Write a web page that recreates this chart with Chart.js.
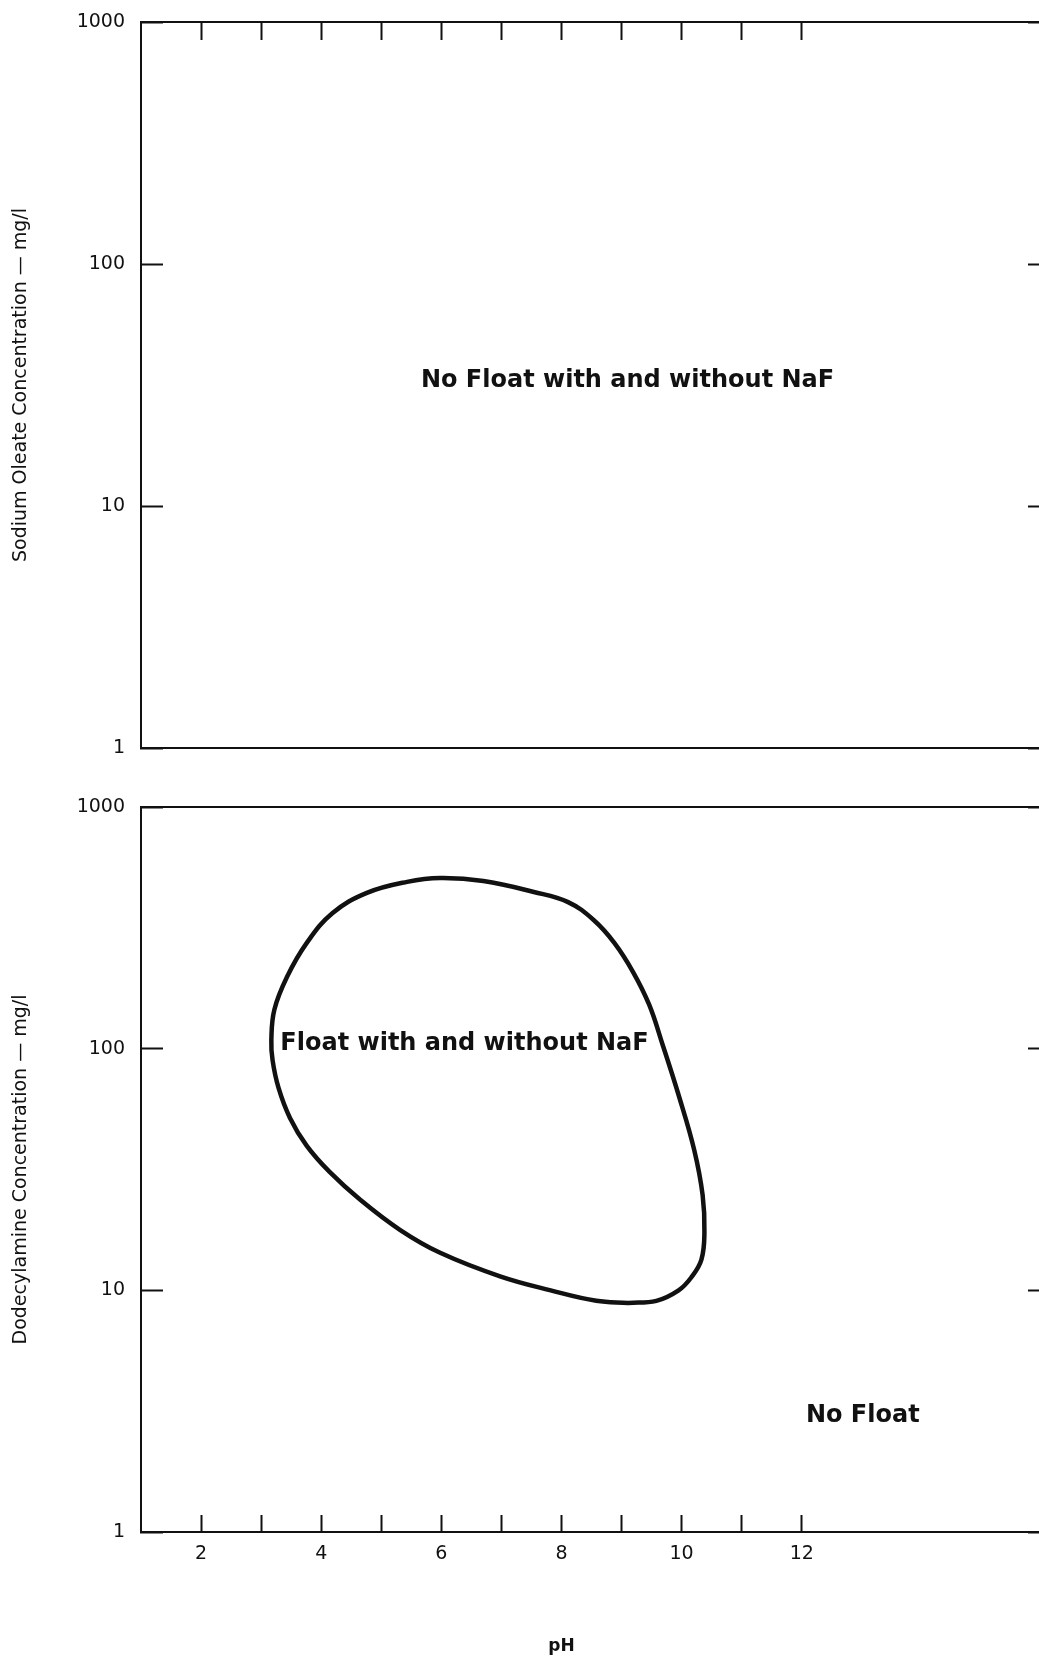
<!DOCTYPE html>
<html>
<head>
<meta charset="utf-8">
<title>Flotation response vs pH</title>
<script src="https://cdn.jsdelivr.net/npm/chart.js@4.4.1/dist/chart.umd.min.js"></script>
<style>
  html, body { margin: 0; padding: 0; background: #fff; overflow: hidden; }
  #wrap { position: relative; width: 1039px; height: 1661px; overflow: hidden; background: #fff; }
  canvas { position: absolute; left: 0; }
  #oleate { top: 0; }
  #amine { top: 780px; }
</style>
</head>
<body>
<div id="wrap">
  <canvas id="oleate" width="1046" height="762"></canvas>
  <canvas id="amine" width="1046" height="881"></canvas>
</div>
<script>
// ---- axis values ----
const phRange = [1, 16];
const phTicks = [2, 3, 4, 5, 6, 7, 8, 9, 10, 11, 12];
const phTickLabels = [2, 4, 6, 8, 10, 12];
const concRange = [1, 1000];
const concTicks = [1, 10, 100, 1000];
const concTickLabels = ['1', '10', '100', '1000'];

// ---- float region boundary with dodecylamine (pH, mg/l), clockwise from its lowest point ----
const floatPH   = [9.11, 8.58, 7.82, 6.99, 5.98, 5.31, 4.65, 4.14, 3.76, 3.48,
                   3.29, 3.19, 3.17, 3.22, 3.43, 3.76, 4.19, 4.76, 5.43, 5.98,
                   6.70, 7.54, 8.11, 8.54, 8.88, 9.19, 9.46, 9.68, 9.96, 10.21,
                   10.35, 10.38, 10.33, 10.16, 9.95, 9.58, 9.11];
const floatConc = [8.87, 9.05, 10.0, 11.4, 14.3, 17.8, 23.7, 30.9, 39.6, 51.7,
                   68.8, 89.8, 109, 145, 198, 274, 364, 441, 490, 508,
                   494, 445, 404, 340, 274, 208, 152, 104.6, 63.1, 38.1,
                   24.8, 17.4, 13.4, 11.3, 10.0, 9.05, 8.87];

// ---- texts ----
const oleateTitle = 'Sodium Oleate Concentration \u2014 mg/l';
const amineTitle = 'Dodecylamine Concentration \u2014 mg/l';
const phTitle = 'pH';

const oleateNoteText = ['No Float with and without NaF'];
const oleateNotePH = [9.1];
const oleateNoteConc = [33];
const oleateNoteAlign = ['center'];

const amineNoteText = ['Float with and without NaF', 'No Float'];
const amineNotePH = [3.32, 12.07];
const amineNoteConc = [104.6, 3.02];
const amineNoteAlign = ['left', 'left'];

// ---- styling ----
const INK = '#111';
Chart.defaults.font.family = '"DejaVu Sans", Verdana, sans-serif';
Chart.defaults.color = INK;

const setTicks = values => scale => { scale.ticks = values.map(v => ({ value: v })); };
// fixed axis box sizes; edge label padding is covered by layout.padding
const fixWidth = w => scale => { scale.width = w; scale.paddingTop = 0; scale.paddingBottom = 0; };
const fixHeight = h => scale => { scale.height = h; scale.paddingLeft = 0; scale.paddingRight = 0; };

function phAxis(position, marks, labelled, height) {
  const axis = {
    type: 'linear', position, min: phRange[0], max: phRange[1],
    afterFit: fixHeight(height),
    grid: {
      display: !!marks, drawOnChartArea: false, drawTicks: true,
      tickLength: position === 'top' ? -18 : -17, tickWidth: 2, tickColor: INK
    },
    border: { display: true, width: 2, color: INK },
    ticks: {
      display: labelled, autoSkip: false, maxRotation: 0, minRotation: 0,
      padding: 28, font: { size: 19 }, color: INK,
      callback: v => phTickLabels.includes(v) ? String(v) : ''
    }
  };
  if (marks) axis.afterBuildTicks = setTicks(marks);
  return axis;
}

function concAxis(position, labelled, title, width, tickLen) {
  return {
    type: 'logarithmic', position, min: concRange[0], max: concRange[1],
    afterBuildTicks: setTicks(concTicks),
    afterFit: fixWidth(width),
    grid: { drawOnChartArea: false, drawTicks: true, tickLength: tickLen, tickWidth: 2, tickColor: INK },
    border: { display: true, width: 2, color: INK },
    ticks: {
      display: labelled, padding: 38, font: { size: 19 }, color: INK,
      callback: (v, i) => concTickLabels[i]
    },
    title: {
      display: !!title, text: title, color: INK,
      padding: { top: 10, bottom: 0 }, font: { size: 19 }
    }
  };
}

// region labels placed in data coordinates, optional pH caption under the axis
function regionNotes(texts, phs, concs, aligns, withAxisCaption) {
  return {
    id: 'regionNotes',
    afterDatasetsDraw(chart) {
      const { ctx, scales: { x, y }, chartArea } = chart;
      ctx.save();
      ctx.fillStyle = INK;
      ctx.textBaseline = 'middle';
      ctx.font = 'bold 24px "DejaVu Sans", Verdana, sans-serif';
      texts.forEach((t, i) => {
        ctx.textAlign = aligns[i];
        ctx.fillText(t, x.getPixelForValue(phs[i]), y.getPixelForValue(concs[i]));
      });
      if (withAxisCaption) {
        ctx.font = 'bold 17px "DejaVu Sans", Verdana, sans-serif';
        ctx.textAlign = 'center';
        ctx.fillText(phTitle, x.getPixelForValue(8), chartArea.bottom + 115);
      }
      ctx.restore();
    }
  };
}

const common = {
  responsive: false,
  animation: false,
  devicePixelRatio: 1,
  plugins: { legend: { display: false }, tooltip: { enabled: false } }
};

// upper panel: sodium oleate
new Chart(document.getElementById('oleate'), {
  type: 'scatter',
  data: { datasets: [] },
  options: {
    ...common,
    layout: { autoPadding: false, padding: { top: 22, bottom: 14, left: 0, right: 0 } },
    scales: {
      x: phAxis('bottom', null, false, 0),
      xTop: phAxis('top', phTicks, false, 0),
      y: concAxis('left', true, oleateTitle, 141, -22),
      yRight: concAxis('right', false, '', 4, -14)
    }
  },
  plugins: [regionNotes(oleateNoteText, oleateNotePH, oleateNoteConc, oleateNoteAlign, false)]
});

// lower panel: dodecylamine
new Chart(document.getElementById('amine'), {
  type: 'scatter',
  data: {
    datasets: [{
      label: 'Float region',
      data: floatPH.map((p, i) => ({ x: p, y: floatConc[i] })),
      showLine: true,
      borderColor: INK,
      borderWidth: 4.5,
      borderCapStyle: 'round',
      borderJoinStyle: 'round',
      pointRadius: 0,
      tension: 0.4,
      fill: false,
      xAxisID: 'x',
      yAxisID: 'y'
    }]
  },
  options: {
    ...common,
    layout: { autoPadding: false, padding: { top: 27, bottom: 0, left: 0, right: 0 } },
    scales: {
      x: phAxis('bottom', phTicks, true, 129),
      xTop: phAxis('top', null, false, 0),
      y: concAxis('left', true, amineTitle, 141, -22),
      yRight: concAxis('right', false, '', 4, -14)
    }
  },
  plugins: [regionNotes(amineNoteText, amineNotePH, amineNoteConc, amineNoteAlign, true)]
});
</script>
</body>
</html>
